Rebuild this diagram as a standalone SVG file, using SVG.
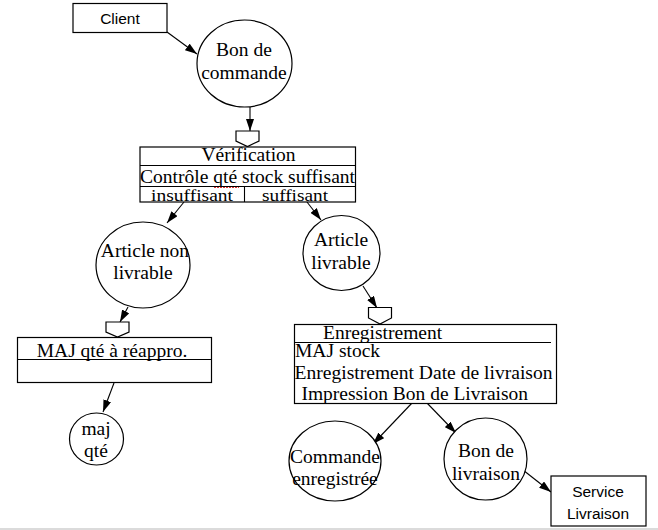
<svg xmlns="http://www.w3.org/2000/svg" width="658" height="530" viewBox="0 0 658 530">
<style>
.sh{fill:#fff;stroke:#000;stroke-width:1.2}
.ln{fill:none;stroke:#000;stroke-width:1.1}
.t{font-family:"Liberation Serif","Times New Roman",serif;font-size:19.5px;fill:#000}
.c{text-anchor:middle}
.sm{font-size:16.5px}
.s{font-family:"Liberation Sans",Arial,sans-serif;font-size:15.5px;fill:#000;text-anchor:middle}
</style>
<defs>
<marker id="ah" viewBox="0 0 12 8" refX="12" refY="4" markerWidth="12" markerHeight="8" markerUnits="userSpaceOnUse" orient="auto">
<path d="M0,0 L12,4 L0,8 z" fill="#000"/>
</marker>
</defs>
<rect width="658" height="530" fill="#fff"/>
<line x1="0" y1="529" x2="658" y2="529" stroke="#cfcfcf" stroke-width="1.5"/>

<g id="connectors" class="ln" marker-end="url(#ah)">
<line x1="167" y1="32" x2="197" y2="54"/>
<line x1="250" y1="107" x2="250" y2="131"/>
<line x1="184" y1="202" x2="167" y2="223"/>
<line x1="307" y1="202" x2="321" y2="220"/>
<line x1="128" y1="307" x2="120" y2="322"/>
<line x1="114" y1="383" x2="103" y2="412"/>
<line x1="363" y1="286" x2="377" y2="308"/>
<line x1="412" y1="403" x2="373" y2="444"/>
<line x1="427" y1="403" x2="456" y2="433"/>
<line x1="523" y1="470" x2="551" y2="492"/>
</g>

<g id="client">
<rect class="sh" x="73" y="3.5" width="94" height="29"/>
<text class="s" x="120" y="24">Client</text>
</g>

<g id="bon-de-commande">
<ellipse class="sh" cx="244.5" cy="63.5" rx="47.5" ry="43.5"/>
<text class="t c" x="244" y="55.5">Bon de</text>
<text class="t c" x="244" y="79">commande</text>
</g>

<g id="verification">
<path class="sh" d="M236,131 H259 V141 L247.5,146.5 L236,141 Z"/>
<rect class="sh" x="140" y="147" width="215.5" height="55"/>
<line class="ln" x1="140" y1="165.5" x2="355.5" y2="165.5"/>
<line class="ln" x1="140" y1="186.5" x2="355.5" y2="186.5"/>
<line class="ln" x1="244.5" y1="186.5" x2="244.5" y2="202"/>
<text class="t c" x="248.5" y="161">Vérification</text>
<text class="t" x="140" y="182.5" style="font-size:19px" textLength="215" lengthAdjust="spacingAndGlyphs">Contrôle qté stock suffisant</text>
<line x1="214" y1="187.5" x2="239" y2="187.5" stroke="#d33" stroke-width="1.2" stroke-dasharray="2 1"/>
<text class="t c sm" x="192" y="201" textLength="82" lengthAdjust="spacingAndGlyphs">insuffisant</text>
<text class="t c sm" x="295" y="201" textLength="66" lengthAdjust="spacingAndGlyphs">suffisant</text>
</g>

<g id="article-non-livrable">
<ellipse class="sh" cx="143" cy="265" rx="47" ry="43"/>
<text class="t c" x="145" y="257">Article non</text>
<text class="t c" x="143" y="279">livrable</text>
</g>

<g id="maj-reappro">
<path class="sh" d="M106,322 H129 V332 L117.5,337 L106,332 Z"/>
<rect class="sh" x="17.5" y="337.5" width="194" height="45"/>
<line class="ln" x1="17.5" y1="359.5" x2="211.5" y2="359.5"/>
<text class="t c" x="112" y="356.5">MAJ qté à réappro.</text>
</g>

<g id="maj-qte">
<ellipse class="sh" cx="96.5" cy="439" rx="27" ry="26"/>
<text class="t c" x="96" y="435">maj</text>
<text class="t c" x="96" y="457">qté</text>
</g>

<g id="article-livrable">
<ellipse class="sh" cx="341.5" cy="253" rx="38.5" ry="37.5"/>
<text class="t c" x="341" y="246">Article</text>
<text class="t c" x="341" y="268.5">livrable</text>
</g>

<g id="enregistrement">
<path class="sh" d="M368.5,307.5 H391.5 V318 L380,324 L368.5,318 Z"/>
<rect class="sh" x="294.5" y="324.5" width="262" height="79"/>
<line class="ln" x1="294.5" y1="342.5" x2="551" y2="342.5"/>
<text class="t" x="323" y="338.5">Enregistrement</text>
<text class="t" x="295" y="357">MAJ stock</text>
<text class="t" x="294.5" y="378.5" textLength="258" lengthAdjust="spacingAndGlyphs">Enregistrement Date de livraison</text>
<text class="t" x="301.5" y="399.5" textLength="226.5" lengthAdjust="spacingAndGlyphs">Impression Bon de Livraison</text>
</g>

<g id="commande-enregistree">
<ellipse class="sh" cx="335" cy="461" rx="46" ry="40"/>
<text class="t c" x="335" y="463">Commande</text>
<text class="t c" x="335" y="485">enregistrée</text>
</g>

<g id="bon-de-livraison">
<ellipse class="sh" cx="485.5" cy="459" rx="41.5" ry="41"/>
<text class="t c" x="486" y="456.5">Bon de</text>
<text class="t c" x="486" y="480">livraison</text>
</g>

<g id="service-livraison">
<rect class="sh" x="551" y="476" width="95" height="50"/>
<text class="s" x="598" y="497">Service</text>
<text class="s" x="598" y="518.5">Livraison</text>
</g>
</svg>
